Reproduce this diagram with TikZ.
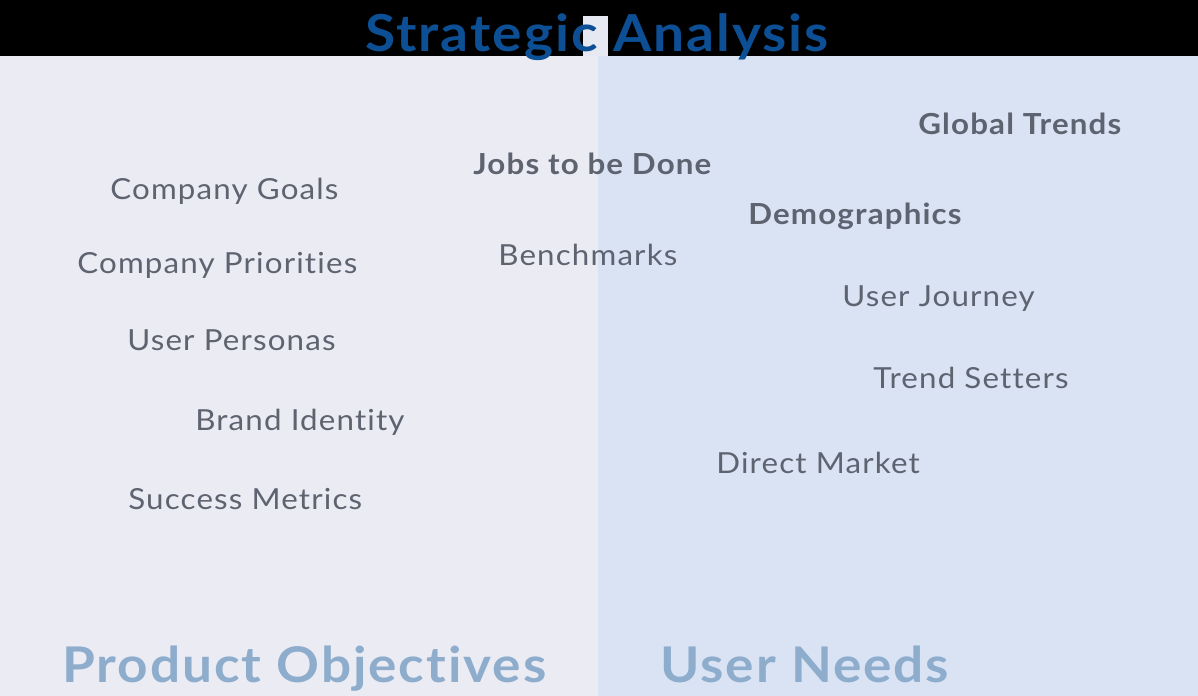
\documentclass[tikz,border=0pt]{standalone}
\usepackage{fontspec}
\setmainfont{Lato}[FakeStretch=1.08, LetterSpace=4, Ligatures=NoCommon]
\usepackage{xcolor}
\definecolor{leftpanel}{HTML}{EBEBF4}
\definecolor{rightpanel}{HTML}{DAE3F4}
\definecolor{titlepatch}{HTML}{E6E9F2}
\definecolor{titleblue}{HTML}{0D4F94}
\definecolor{itemgray}{HTML}{5E6370}
\definecolor{pillarblue}{HTML}{8EADCD}

\begin{document}
\begin{tikzpicture}[x=0.02cm, y=-0.02cm,
  item/.style={anchor=base west, inner sep=0, text=itemgray, font=\fontsize{16.5}{20}\selectfont},
  keyitem/.style={item, font=\fontsize{16.5}{20}\selectfont\bfseries},
  pillar/.style={anchor=base west, inner sep=0, text=pillarblue, font=\fontsize{28}{32}\selectfont\bfseries}]
\fill[black] (0,0) rectangle (1198,696);
\fill[leftpanel] (0,56) rectangle (598,696);
\fill[rightpanel] (598,56) rectangle (1198,696);
\fill[titlepatch] (583,16) rectangle (608,56);
\node[anchor=base, inner sep=0, text=titleblue, font=\fontsize{29}{34}\selectfont\bfseries] (title) at (597,52) {Strategic Analysis};
% product objectives
\node[item] (goals) at (110,200) {Company Goals};
\node[item] (priorities) at (77,274) {Company Priorities};
\node[item] (personas) at (127,350) {User Personas};
\node[item] (brand) at (195,430) {Brand Identity};
\node[item] (metrics) at (128,509) {Success Metrics};
% shared
\node[keyitem] (jobs) at (473,174) {Jobs to be Done};
\node[item] (bench) at (498,265) {Benchmarks};
% user needs
\node[keyitem] (global) at (918,135) {Global Trends};
\node[keyitem] (demo) at (748,225) {Demographics};
\node[item] (journey) at (842,306) {User Journey};
\node[item] (setters) at (873,388) {Trend Setters};
\node[item] (market) at (716,473) {Direct Market};
\node[pillar] (objectives) at (62,682) {Product Objectives};
\node[pillar] (needs) at (660,682) {User Needs};
\end{tikzpicture}
\end{document}
